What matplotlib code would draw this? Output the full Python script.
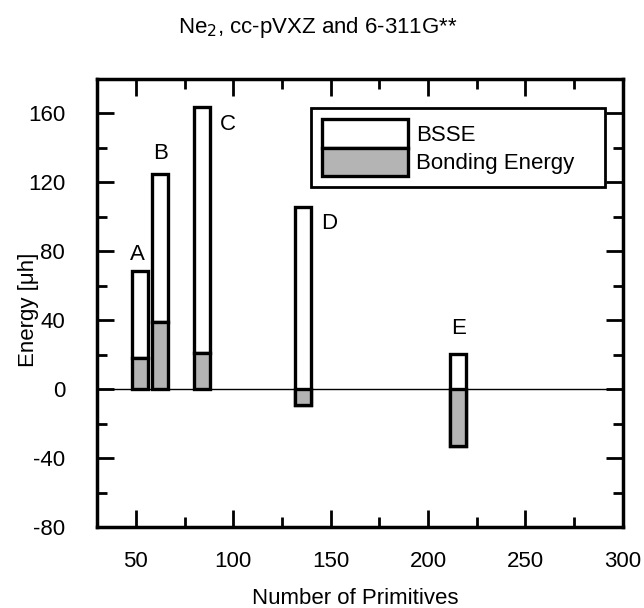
import matplotlib
matplotlib.use("Agg")
from matplotlib import pyplot as plt
from matplotlib.ticker import MultipleLocator

# values
labels = ["A", "B", "C", "D", "E"]
primitives = [52, 62.5, 84, 136, 215.5]
bonding = [17.9, 39.2, 21.2, -9.3, -33.1]
totals = [68.4, 124.8, 163.9, 106.0, 20.2]
bsse = [t - b for t, b in zip(totals, bonding)]

plt.rcParams['font.family'] = ['Liberation Sans', 'DejaVu Sans']
plt.rcParams['axes.unicode_minus'] = False

fig = plt.figure(figsize=(6.44, 6.08), dpi=100)
ax = fig.add_axes([0.1506, 0.1332, 0.967 - 0.1506, 0.870 - 0.1332])

width = 8.2
grey = '#b4b4b4'

ax.axhline(0, color='black', lw=1.0, zorder=1)
# white BSSE box from bonding energy up to the uncorrected value
ax.bar(primitives, bsse, width=width, bottom=bonding, color='white',
       edgecolor='black', linewidth=2.4, label='BSSE', zorder=2)
# grey bonding energy from zero
ax.bar(primitives, bonding, width=width, color=grey,
       edgecolor='black', linewidth=2.4, label='Bonding Energy', zorder=3)

# letter labels next to the bars
offsets = {"A": (-1, 10), "B": (0, 12), "C": (13, -10), "D": (13, -10), "E": (0, 15)}
for lab, x, top in zip(labels, primitives, totals):
    dx, dy = offsets[lab]
    ax.text(x + dx, top + dy, lab, fontsize=16, ha='center', va='center')

ax.set_xlim(30, 300)
ax.set_ylim(-80, 180)
ax.xaxis.set_major_locator(MultipleLocator(50))
ax.xaxis.set_minor_locator(MultipleLocator(25))
ax.yaxis.set_minor_locator(MultipleLocator(20))
ax.set_yticks([-80, -40, 0, 40, 80, 120, 160])
ax.tick_params(which='both', direction='in', top=True, right=True, width=2,
               labelsize=16)
ax.tick_params(which='major', length=12)
ax.tick_params(which='minor', length=7)
ax.tick_params(axis='x', which='major', pad=17)
ax.tick_params(axis='y', which='major', pad=23)
for s in ax.spines.values():
    s.set_linewidth(2.5)

ax.set_xlabel("Number of Primitives", fontsize=16)
ax.set_ylabel("Energy [\u03bch]", fontsize=16)
ax.xaxis.set_label_coords(0.491, -0.136)
ax.yaxis.set_label_coords(-0.110, 0.484)
fig.text(0.494, 0.955, "Ne$_2$, cc-pVXZ and 6-311G**", fontsize=16,
         ha='center', va='center')

leg = ax.legend(loc='upper left', bbox_to_anchor=(0.407, 0.935, 0.559, 0.0),
                mode='expand', borderaxespad=0, fontsize=16,
                handlelength=3.85, handleheight=1.6, labelspacing=0,
                handletextpad=0.36, borderpad=0.5, fancybox=False,
                framealpha=1, edgecolor='black')
leg.get_frame().set_linewidth(2)

fig.savefig("out.png", dpi=100)
